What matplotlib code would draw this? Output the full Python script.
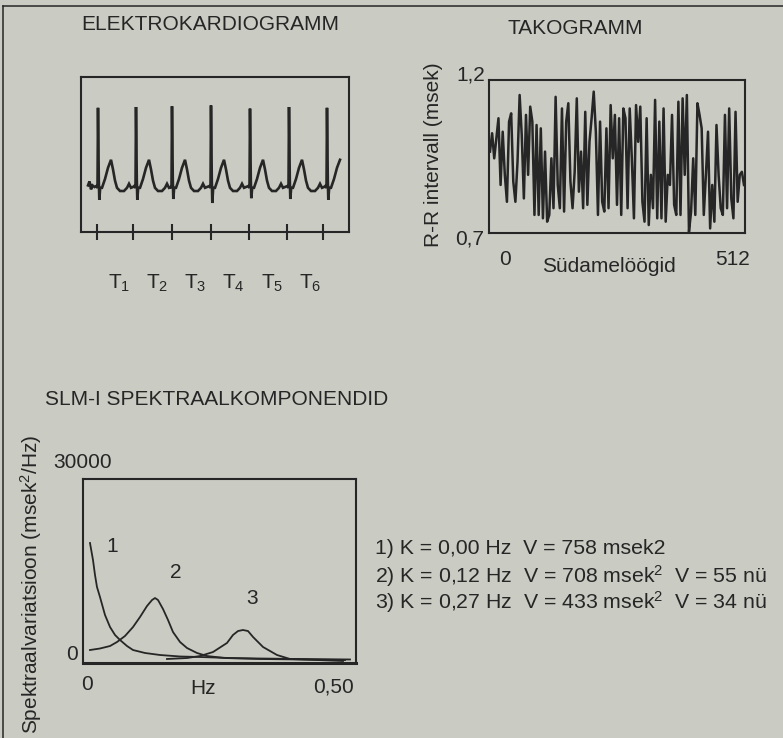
import numpy as np
import matplotlib
matplotlib.use("Agg")
import matplotlib.pyplot as plt
from matplotlib.lines import Line2D

plt.rcParams['font.family'] = ['Liberation Sans', 'DejaVu Sans']
plt.rcParams['mathtext.fontset'] = 'custom'
plt.rcParams['mathtext.rm'] = 'Liberation Sans'
plt.rcParams['mathtext.it'] = 'Liberation Sans:italic'

# ---------------- data ----------------
# ECG (time in s, amplitude in mV)
ecg_r_times = [0.34, 1.10, 1.82, 2.60, 3.38, 4.16, 4.92]
ecg_r_amp = [0.99, 1.00, 1.01, 1.02, 0.98, 1.00, 0.99]
ecg_s_amp = [-0.16, -0.16, -0.15, -0.20, -0.14, -0.15, -0.16]
ecg_beat_dt = [-0.04, -0.01, 0.0, 0.016, 0.026, 0.044, 0.08, 0.14, 0.20, 0.26,
               0.30, 0.34, 0.38, 0.44, 0.52, 0.58, 0.62, 0.66, 0.70]
ecg_beat_mv = [0.01, -0.01, None, 0.09, None, -0.01, -0.01, 0.10, 0.24, 0.34,
               0.22, 0.08, -0.01, -0.05, -0.05, -0.01, 0.04, -0.01, 0.0]
ecg_lead_t = [0.14, 0.17, 0.20, 0.23, 0.27]
ecg_lead_mv = [0.02, 0.07, -0.03, 0.02, 0.0]
ecg_last_end = 0.27
ecg_tick_times = [0.32, 1.04, 1.82, 2.60, 3.36, 4.12, 4.84]
ecg_labels = ['T$_1$', 'T$_2$', 'T$_3$', 'T$_4$', 'T$_5$', 'T$_6$']
ecg_label_t = [0.76, 1.52, 2.28, 3.04, 3.82, 4.58]

# Tachogram (R-R interval, s)
rr_values = [0.966, 1.026, 0.944, 1.009, 1.075, 0.857, 1.031, 0.890, 0.802, 1.064,
             1.091, 0.868, 0.802, 0.933, 1.151, 1.020, 0.813, 1.086, 0.890, 1.113,
             1.064, 0.759, 1.053, 0.759, 1.042, 0.748, 0.966, 0.737, 0.759, 0.944,
             0.781, 1.145, 0.857, 0.781, 1.107, 0.770, 1.064, 1.124, 0.868, 0.781,
             0.900, 1.140, 0.835, 0.966, 0.781, 1.096, 0.792, 0.998, 1.075, 1.162,
             1.031, 0.759, 1.064, 0.802, 0.770, 1.042, 0.781, 1.118, 0.944, 1.086,
             0.792, 1.075, 0.759, 1.107,
             1.075, 0.781, 1.107, 0.944, 0.748, 1.118, 0.998, 1.113, 0.802, 0.737,
             1.075, 0.726, 0.890, 0.781, 1.135, 0.748, 1.064, 0.748, 1.107, 0.737,
             0.890, 0.857, 1.086, 0.792, 0.759, 1.129, 0.759, 1.140, 0.890, 1.151,
             0.704, 0.770, 0.944, 0.759, 1.124, 1.086, 1.042, 0.759, 0.890, 1.031,
             0.715, 0.857, 0.737, 1.053, 0.890, 0.781, 0.759, 1.086, 0.781, 1.107,
             0.813, 0.748, 1.096, 0.802, 0.890, 0.900, 0.857]
rr_first_beat = 2
rr_last_beat = 510

# Spectral components (Hz, msek^2/Hz)
c1_f = [0.0128, 0.0183, 0.0220, 0.0256, 0.0311, 0.0403, 0.0495, 0.0586, 0.0678,
        0.0806, 0.0916, 0.1136, 0.141, 0.178, 0.214, 0.269, 0.324, 0.397, 0.489]
c1_p = [19450, 16650, 14170, 12200, 10550, 7580, 5600, 4290, 3460,
        2470, 1810, 1320, 990, 740, 660, 490, 410, 330, 250]
c2_f = [0.0128, 0.0311, 0.0495, 0.0623, 0.0769, 0.0916, 0.1044, 0.1172, 0.1264,
        0.1319, 0.1374, 0.1465, 0.1557, 0.1648, 0.1777, 0.1905, 0.2088, 0.2271,
        0.2601, 0.3242, 0.3974, 0.4799]
c2_p = [1810, 2060, 2470, 3130, 4120, 5600, 7250, 9060, 10050,
        10380, 10050, 8570, 6760, 4780, 3130, 2140, 1320, 820,
        490, 330, 250, 160]
c3_f = [0.1538, 0.1905, 0.2143, 0.2381, 0.2637, 0.2747, 0.2839, 0.2930, 0.3022,
        0.3114, 0.3297, 0.3553, 0.3791, 0.4286, 0.4762]
c3_p = [330, 490, 820, 1480, 2970, 4290, 4940, 5110, 4940,
        3960, 2310, 990, 330, 160, 0]
comp_lines = ["1) K = 0,00 Hz  V = 758 msek2",
              "2) K = 0,12 Hz  V = 708 msek$^{\\mathregular{2}}$  V = 55 nü",
              "3) K = 0,27 Hz  V = 433 msek$^{\\mathregular{2}}$  V = 34 nü"]

# ---------------- figure ----------------
W, H = 783, 738
BG = '#cacbc3'
INK = '#262626'
FS = 15
fig = plt.figure(figsize=(W / 100, H / 100), dpi=100, facecolor=BG)


def box(l, t, r, b):
    return [l / W, 1 - b / H, (r - l) / W, (b - t) / H]


def ftext(x, y, s, **kw):
    kw.setdefault('fontsize', FS)
    kw.setdefault('color', INK)
    kw.setdefault('ha', 'center')
    kw.setdefault('va', 'center')
    fig.text(x / W, 1 - y / H, s, **kw)


def style(ax, lw=1.5):
    ax.set_facecolor('none')
    for sp in ax.spines.values():
        sp.set_color(INK)
        sp.set_linewidth(lw)


# outer frame
fig.add_artist(Line2D([3 / W, 1], [1 - 6 / H, 1 - 6 / H], color=INK, lw=1.1))
fig.add_artist(Line2D([3 / W, 3 / W], [0, 1 - 6 / H], color=INK, lw=1.1))

# ---- ECG ----
ax1 = fig.add_axes(box(81, 77, 349, 232))
style(ax1)
ts, vs = list(ecg_lead_t), list(ecg_lead_mv)
for i, (rt, ra, sa) in enumerate(zip(ecg_r_times, ecg_r_amp, ecg_s_amp)):
    for dt, mv in zip(ecg_beat_dt, ecg_beat_mv):
        if i == len(ecg_r_times) - 1 and dt > ecg_last_end:
            break
        if dt == 0.0:
            mv = ra
        elif dt == 0.026:
            mv = sa
        ts.append(rt + dt)
        vs.append(mv)
ax1.plot(ts, vs, color=INK, lw=1.9, solid_joinstyle='miter')
ax1.set_xlim(0, 5.36)
ax1.set_ylim(-0.5625, 1.375)
ax1.set_xticks(ecg_tick_times)
ax1.set_xticklabels([])
ax1.set_yticks([])
ax1.tick_params(axis='x', direction='inout', length=11, width=1.5, color=INK)
for lab, t in zip(ecg_labels, ecg_label_t):
    ax1.text(t, -1.2, lab, fontsize=FS, color=INK, ha='center', va='center',
             clip_on=False)
ftext(210, 24, 'ELEKTROKARDIOGRAMM')

# ---- Tachogram ----
ax2 = fig.add_axes(box(489, 80, 745, 233))
style(ax2)
rr_x = np.linspace(rr_first_beat, rr_last_beat, len(rr_values))
ax2.plot(rr_x, rr_values, color=INK, lw=1.8)
ax2.set_xlim(0, 512)
ax2.set_ylim(0.7, 1.2)
ax2.set_xticks([])
ax2.set_yticks([])
ftext(575, 29, 'TAKOGRAMM')
ftext(471, 75, '1,2')
ftext(470, 239, '0,7')
ftext(505, 260, '0')
ftext(733, 260, '512')
ftext(609, 266, 'Südamelöögid')
ftext(433, 155, 'R-R intervall (msek)', rotation=90)

# ---- Spectral ----
ax3 = fig.add_axes(box(83, 479, 356, 663))
style(ax3)
ax3.spines['bottom'].set_linewidth(2.2)
for f, p in ((c1_f, c1_p), (c2_f, c2_p), (c3_f, c3_p)):
    ax3.plot(f, p, color=INK, lw=1.3)
ax3.set_xlim(0, 0.5)
ax3.set_ylim(-330, 30000)
ax3.set_xticks([])
ax3.set_yticks([])
ftext(45, 400, 'SLM-I SPEKTRAALKOMPONENDID', ha='left')
ftext(83, 462, '30000')
ftext(72, 654, '0')
ftext(87, 684, '0')
ftext(203, 688, 'Hz')
ftext(333, 687, '0,50')
ftext(112, 547, '1')
ftext(176, 573, '2')
ftext(252, 598, '3')
ftext(31, 584, 'Spektraalvariatsioon (msek$^{\\mathregular{2}}$/Hz)', rotation=90)
for yy, line in zip([549, 576, 602], comp_lines):
    ftext(375, yy, line, ha='left', fontsize=15.3)

fig.savefig('out.png', dpi=100, facecolor=BG)
